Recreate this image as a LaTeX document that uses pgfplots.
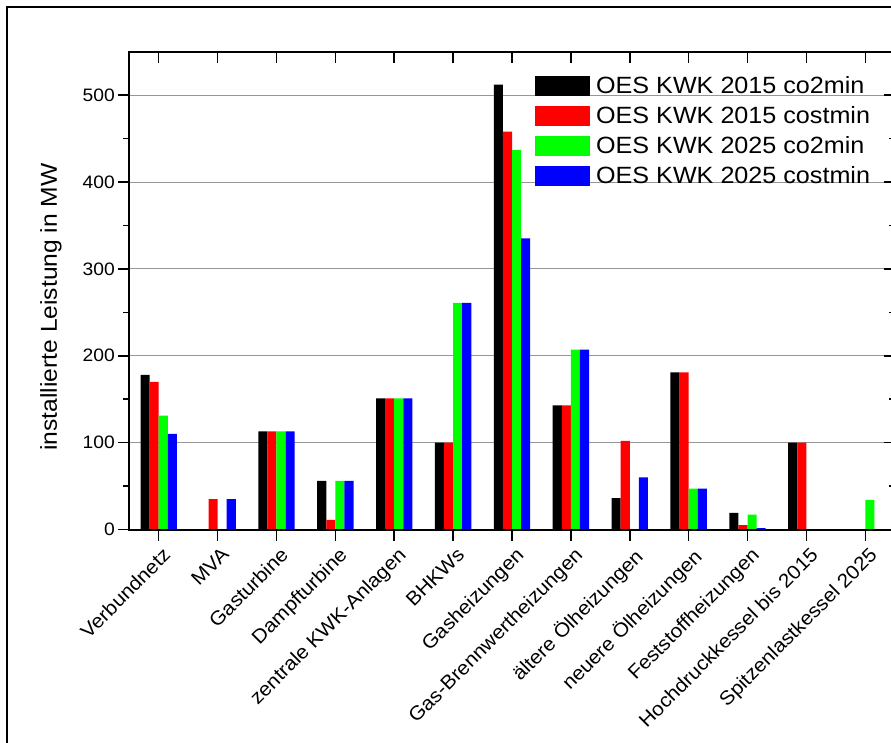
\documentclass[border=0pt]{standalone}
\usepackage{pgfplots}
\usepackage{pgfplotstable}
\pgfplotsset{compat=1.18}
\usepackage{fontspec}
\setmainfont{Liberation Sans}[FakeStretch=1.07]

% installed capacity in MW per technology and scenario
\pgfplotstableread{
x  c15co2  c15cost  c25co2  c25cost
0  178     170      131     110
1  0       35       0       35
2  113     113      113     113
3  56      11       56      56
4  151     151      151     151
5  100     100      261     261
6  512     458      437     335
7  143     143      207     207
8  36      102      0       60
9  181     181      47      47
10 19      5        17      1.5
11 100     100      0       0
12 0       0        34      0
}\capacity

\definecolor{gridgray}{RGB}{150,150,150}

\pgfplotsset{
  framebox/.style={
    at={(0,0)}, anchor=south west,
    width=765.4pt, height=477.8pt, scale only axis,
    xmin=-0.5, xmax=12.5, ymin=0, ymax=550,
    xtick={0,...,12},
    ytick={0,100,...,500},
    minor ytick={50,150,...,450},
    major tick length=11pt, minor tick length=6pt,
    every tick/.append style={black, line width=1.5pt},
    axis line style={line width=2pt},
  },
  barstyle/.style={fill=#1, draw=none,
    legend image code/.code={\fill[fill=#1] (0pt,-10pt) rectangle (55pt,10pt);}},
}

\begin{document}
\begin{tikzpicture}[x=1pt,y=1pt]
\begin{axis}[
  framebox,
  ybar=0pt, bar width=9.1pt,
  tick pos=left, tick align=outside,
  xticklabels={Verbundnetz, MVA, Gasturbine, Dampfturbine, zentrale KWK-Anlagen,
    BHKWs, Gasheizungen, Gas-Brennwertheizungen, ältere Ölheizungen,
    neuere Ölheizungen, Feststoffheizungen, Hochdruckkessel bis 2015,
    Spitzenlastkessel 2025},
  /pgf/number format/assume math mode=true,
  yticklabel style={font=\fontsize{18}{20}\selectfont},
  xticklabel style={font=\fontsize{19.5}{22}\selectfont, rotate=45,
    anchor=north east, inner sep=2pt, yshift=-4pt},
  ymajorgrids,
  major grid style={line width=1pt, gridgray},
  ylabel={installierte Leistung in MW},
  ylabel style={font=\fontsize{23}{26}\selectfont,
    at={(axis description cs:-0.088,0.466)}, anchor=south, inner sep=0pt},
  legend style={at={(axis description cs:0.530,0.9498)}, anchor=north west,
    draw=none, fill=none, inner sep=0pt, row sep=10pt,
    font=\fontsize{23.5}{26}\selectfont, nodes={inner sep=0pt},
    /tikz/every odd column/.append style={column sep=6pt}},
  legend cell align=left,
]
\addplot[barstyle=black] table[x=x, y=c15co2] {\capacity};
\addplot[barstyle=red] table[x=x, y=c15cost] {\capacity};
\addplot[barstyle=green] table[x=x, y=c25co2] {\capacity};
\addplot[barstyle=blue] table[x=x, y=c25cost] {\capacity};
\legend{OES KWK 2015 co2min, OES KWK 2015 costmin,
  OES KWK 2025 co2min, OES KWK 2025 costmin}
\end{axis}

% mirrored ticks on top and right, pointing inwards
\begin{axis}[
  framebox,
  tick pos=right, tick align=inside,
  xticklabels={}, yticklabels={},
]
\end{axis}

% outer frame of the figure
\draw[line width=2pt] (-121.8,522.5) rectangle (800,-260);
\pgfresetboundingbox
\useasboundingbox (-129.3,-212.5) rectangle (761.7,529.5);
\end{tikzpicture}
\end{document}
